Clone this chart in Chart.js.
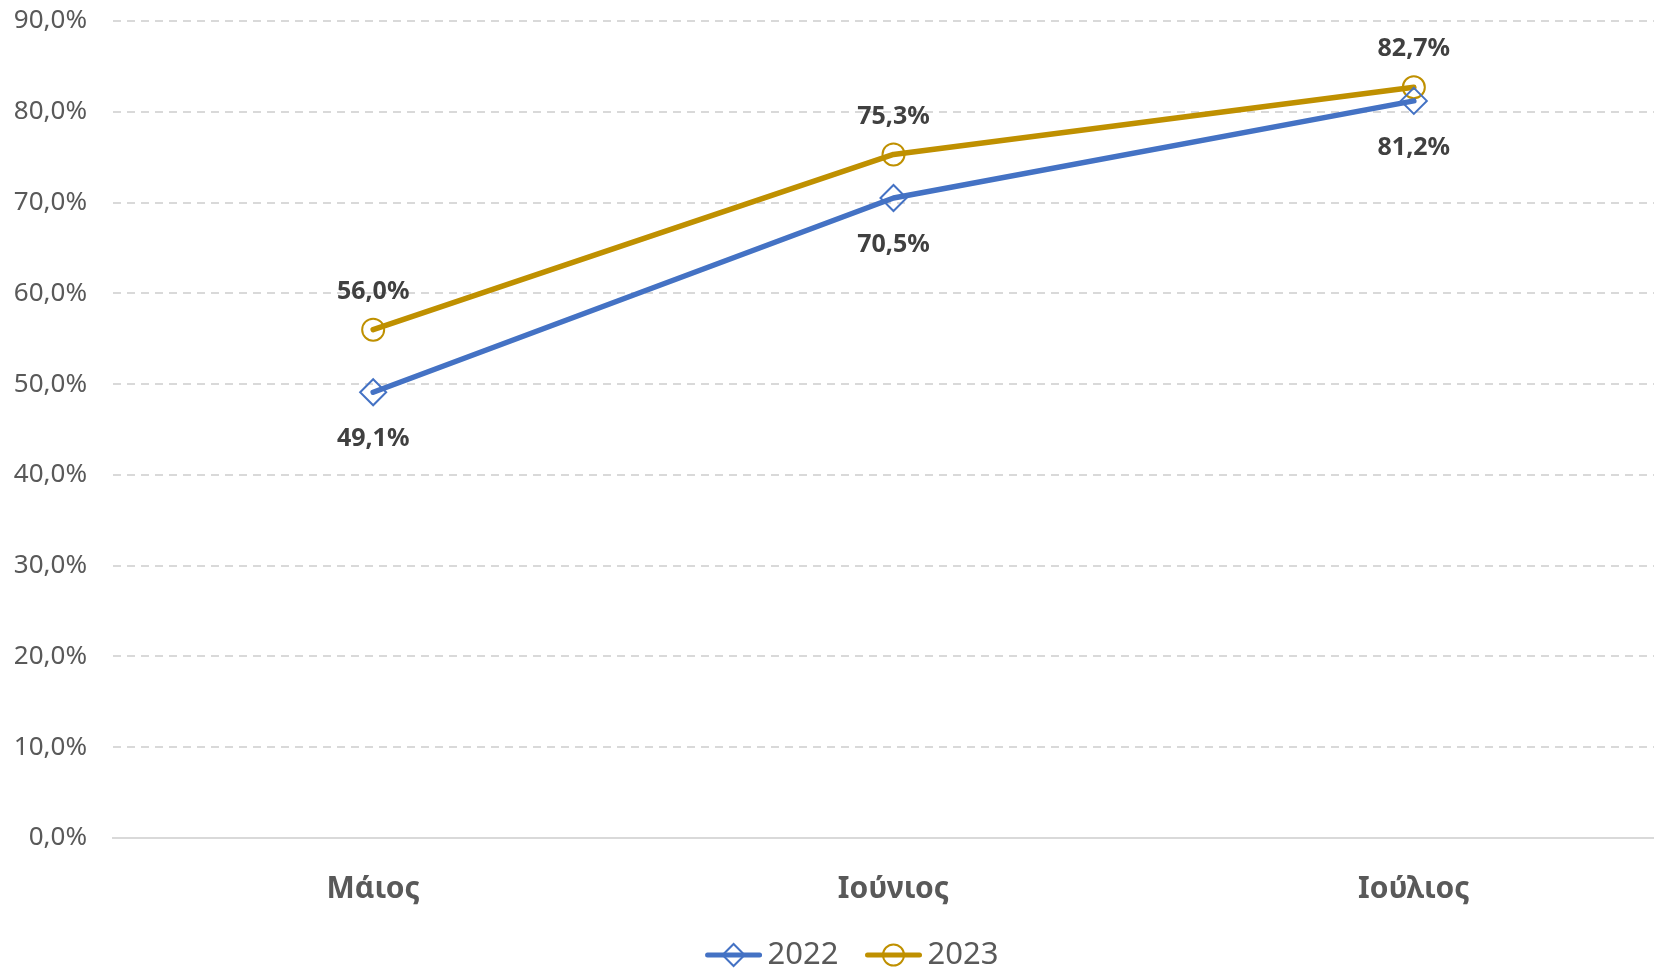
<!DOCTYPE html>
<html>
<head>
<meta charset="utf-8">
<script src="https://cdn.jsdelivr.net/npm/chart.js@4/dist/chart.umd.min.js"></script>
<style>
  html, body { margin: 0; padding: 0; background: #fff; overflow: hidden; }
  #wrap { width: 1704px; height: 973px; }
</style>
</head>
<body>
<div id="wrap"><canvas id="chart"></canvas></div>
<script>
const months = ['Μάιος', 'Ιούνιος', 'Ιούλιος'];
const values2022 = [49.1, 70.5, 81.2];
const values2023 = [56.0, 75.3, 82.7];
const seriesNames = ['2022', '2023'];

const blue = '#4472C4';
const gold = '#BF9000';
const FONT = '"Noto Sans", sans-serif';

function fmt(v) {
  return v.toFixed(1).replace('.', ',') + '%';
}

// value labels: 2023 above the point, 2022 below
const valueLabels = {
  id: 'valueLabels',
  afterDatasetsDraw(chart) {
    const ctx = chart.ctx;
    ctx.save();
    ctx.font = 'bold 25px ' + FONT;
    ctx.fillStyle = '#404040';
    ctx.textAlign = 'center';
    ctx.textBaseline = 'middle';
    chart.data.datasets.forEach((ds, di) => {
      const meta = chart.getDatasetMeta(di);
      meta.data.forEach((pt, i) => {
        const dy = di === 1 ? -38 : 47;
        ctx.fillText(fmt(ds.data[i]), pt.x, pt.y + dy);
      });
    });
    ctx.restore();
  }
};

// legend with line + marker symbols, like the office style
const lineLegend = {
  id: 'lineLegend',
  afterDraw(chart) {
    const ctx = chart.ctx;
    ctx.save();
    ctx.font = '31px ' + FONT;
    const symW = 56, gap = 6, itemGap = 27;
    const widths = chart.data.datasets.map(ds => ctx.measureText(ds.label).width);
    let total = 0;
    widths.forEach((w, i) => { total += symW + gap + w + (i ? itemGap : 0); });
    let x = chart.width / 2 - total / 2;
    const y = 955;
    chart.data.datasets.forEach((ds, i) => {
      ctx.strokeStyle = ds.borderColor;
      ctx.lineWidth = 5;
      ctx.lineCap = 'round';
      ctx.beginPath();
      ctx.moveTo(x + 2, y);
      ctx.lineTo(x + symW - 2, y);
      ctx.stroke();
      const cx = x + symW / 2;
      ctx.lineWidth = 2;
      ctx.beginPath();
      if (ds.pointStyle === 'rectRot') {
        ctx.moveTo(cx - 11, y);
        ctx.lineTo(cx, y - 11);
        ctx.lineTo(cx + 11, y);
        ctx.lineTo(cx, y + 11);
        ctx.closePath();
      } else {
        ctx.arc(cx, y, 10.5, 0, Math.PI * 2);
      }
      ctx.stroke();
      ctx.fillStyle = '#595959';
      ctx.textAlign = 'left';
      ctx.textBaseline = 'middle';
      ctx.fillText(ds.label, x + symW + gap, y);
      x += symW + gap + widths[i] + itemGap;
    });
    ctx.restore();
  }
};

const chart = new Chart(document.getElementById('chart'), {
  type: 'line',
  data: {
    labels: months,
    datasets: [{
      label: seriesNames[0],
      data: values2022,
      borderColor: blue,
      backgroundColor: 'rgba(0,0,0,0)',
      borderWidth: 5.5,
      borderCapStyle: 'round',
      borderJoinStyle: 'round',
      pointStyle: 'rectRot',
      pointRadius: 13,
      pointBorderWidth: 2,
      pointBorderColor: blue,
      pointBackgroundColor: 'rgba(0,0,0,0)',
      tension: 0
    }, {
      label: seriesNames[1],
      data: values2023,
      borderColor: gold,
      backgroundColor: 'rgba(0,0,0,0)',
      borderWidth: 5.5,
      borderCapStyle: 'round',
      borderJoinStyle: 'round',
      pointStyle: 'circle',
      pointRadius: 11,
      pointBorderWidth: 2,
      pointBorderColor: gold,
      pointBackgroundColor: 'rgba(0,0,0,0)',
      tension: 0
    }]
  },
  options: {
    responsive: true,
    maintainAspectRatio: false,
    animation: false,
    layout: { padding: { top: 21, right: 30, left: 0, bottom: 0 } },
    scales: {
      y: {
        min: 0,
        max: 90,
        afterFit(scale) {
          scale.width = 113;
          scale.paddingTop = 0;
          scale.paddingBottom = 0;
        },
        ticks: {
          stepSize: 10,
          padding: 26,
          color: '#595959',
          font: { family: FONT, size: 26 },
          callback: v => fmt(v)
        },
        grid: {
          color: '#d9d9d9',
          lineWidth: 2,
          drawTicks: false
        },
        border: { display: false, dash: [8, 6] }
      },
      x: {
        offset: true,
        afterFit(scale) { scale.height = 135; },
        ticks: {
          padding: 33,
          color: '#595959',
          font: { family: FONT, size: 30, weight: 'bold' }
        },
        grid: { display: false, drawTicks: false, offset: true },
        border: { display: true, color: '#d9d9d9', width: 2 }
      }
    },
    plugins: {
      legend: { display: false },
      tooltip: { enabled: false }
    }
  },
  plugins: [valueLabels, lineLegend]
});
</script>
</body>
</html>
